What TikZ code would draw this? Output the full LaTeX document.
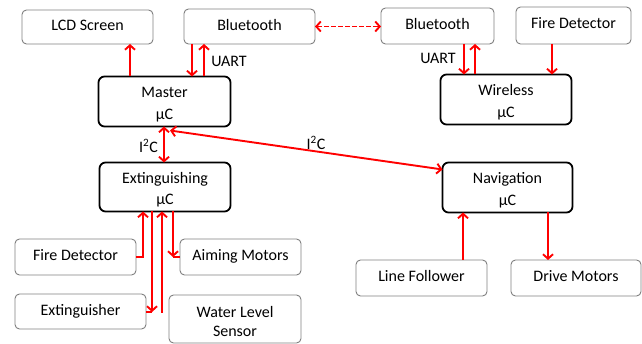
\documentclass[tikz,border=0pt]{standalone}
\usepackage{fontspec}
\setmainfont{Carlito}
\usetikzlibrary{arrows.meta,calc}
\definecolor{boxgray}{HTML}{7F7F7F}
\definecolor{wirered}{HTML}{FF0000}
\newcommand{\lowerstrut}{\rule{0pt}{17pt}}
\begin{document}
\begin{tikzpicture}[x=1pt,y=-1pt,
  every node/.style={font=\fontsize{16}{21}\selectfont, inner sep=0pt, outer sep=0pt},
  part/.style={draw=boxgray, line width=0.9pt, rounded corners=4.5pt, align=center, text depth=4pt},
  part2/.style={draw=boxgray, line width=0.9pt, rounded corners=4.5pt, align=center},
  ctrl/.style={draw=black, line width=1.8pt, rounded corners=6pt, align=center, font=\fontsize{16}{21.5}\selectfont},
  wire/.style={draw=wirered, line width=1.9pt},
  arr/.style={wire, -{Straight Barb[length=4.5pt,width=10pt]}},
  darr/.style={wire, {Straight Barb[length=4.5pt,width=10pt]}-{Straight Barb[length=4.5pt,width=10pt]}},
  lbl/.style={font=\fontsize{16}{18}\selectfont}
]
\useasboundingbox (0,0) rectangle (642,344);
% peripheral boxes
\node[part, minimum width=131pt, minimum height=34pt] (lcd) at (87.5,27) {LCD Screen};
\node[part, minimum width=131pt, minimum height=35pt] (btL) at (249.5,26.5) {Bluetooth};
\node[part, minimum width=113pt, minimum height=36pt] (btR) at (437.5,26) {Bluetooth};
\node[part, minimum width=115pt, minimum height=37pt] (fdT) at (573.5,25.5) {Fire Detector};
\node[part, minimum width=121pt, minimum height=36pt] (fdB) at (75.5,257) {Fire Detector};
\node[part, minimum width=121pt, minimum height=36pt] (aim) at (240.5,257) {Aiming Motors};
\node[part, minimum width=131pt, minimum height=35pt] (extr) at (80.5,311.5) {Extinguisher};
\node[part2, minimum width=132pt, minimum height=48pt, font=\fontsize{16}{19}\selectfont] (wls) at (235,319) {\lowerstrut Water Level\\Sensor};
\node[part, minimum width=131pt, minimum height=36pt] (lf) at (421.5,278) {Line Follower};
\node[part, minimum width=130pt, minimum height=36pt] (dm) at (576,278) {Drive Motors};
% controllers
\node[ctrl, minimum width=132pt, minimum height=50pt] (master) at (164.5,101.5) {\lowerstrut Master\\µC};
\node[ctrl, minimum width=131pt, minimum height=50pt] (wireless) at (506,99.5) {\lowerstrut Wireless\\µC};
\node[ctrl, minimum width=131pt, minimum height=49pt] (ext) at (165,187) {\lowerstrut Extinguishing\\µC};
\node[ctrl, minimum width=130pt, minimum height=50pt] (nav) at (507.5,187.5) {\lowerstrut Navigation\\µC};
% labels
\node[lbl] (uartL) at (229,61) {UART};
\node[lbl] (uartR) at (438,58) {UART};
\node[lbl] (i2cL) at (148.5,146) {I\textsuperscript{2}C};
\node[lbl] (i2cR) at (316,143) {I\textsuperscript{2}C};
% connectors
\draw[arr] (130,0 |- master.north) -- (130,0 |- lcd.south);
\draw[arr] (192,0 |- btL.south) -- (192,0 |- master.north);
\draw[arr] (204,0 |- master.north) -- (204,0 |- btL.south);
\draw[darr, dash pattern=on 4.5pt off 2.5pt] (btL.east) -- (btL.east -| btR.west);
\draw[arr] (464,0 |- btR.south) -- (464,0 |- wireless.north);
\draw[arr] (475,0 |- wireless.north) -- (475,0 |- btR.south);
\draw[arr] (552,0 |- fdT.south) -- (552,0 |- wireless.north);
\draw[darr] (164,0 |- master.south) -- (164,0 |- ext.north);
\draw[darr] ($(170,0 |- master.south)+(0,4)$) -- ($(nav.north west)+(0,7)$);
\draw[arr] (fdB.east) -| (143,0 |- ext.south);
\coordinate (xj) at (152,312);
\draw[arr] (152,0 |- ext.south) -- (xj);
\draw[wire] (xj) -- (xj -| extr.east);
\coordinate (wj) at (162,313);
\draw[arr] (wj) -- (162,0 |- ext.south);
\draw[arr] (173,0 |- ext.south) -- (173,0 |- aim.west);
\draw[wire] (173,0 |- aim.west) -- (aim.west);
\draw[arr] (463,0 |- lf.north) -- (463,0 |- nav.south);
\draw[arr] (548,0 |- nav.south) -- (548,0 |- dm.north);
\end{tikzpicture}
\end{document}
